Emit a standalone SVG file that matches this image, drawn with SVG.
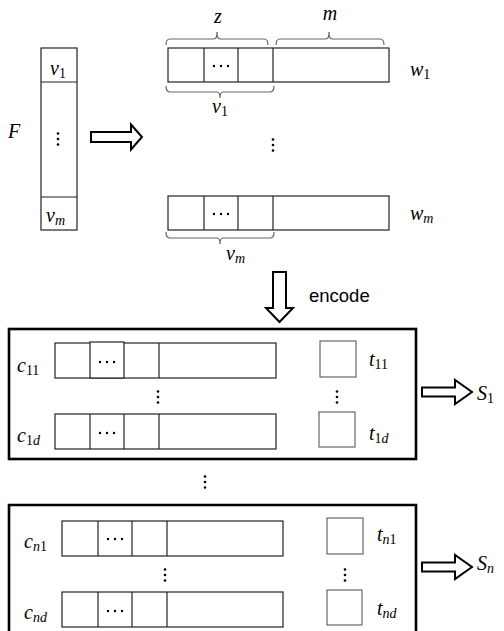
<svg xmlns="http://www.w3.org/2000/svg" width="504" height="631" viewBox="0 0 504 631">
  <defs>
    <style>
      .cell { fill: #fff; stroke: #222; stroke-width: 1.2; }
      .sq { fill: #fff; stroke: #666; stroke-width: 1.2; }
      .frame { fill: none; stroke: #000; stroke-width: 2.6; }
      .brace { fill: none; stroke: #666; stroke-width: 1.2; }
      .arrow { fill: #fff; stroke: #000; stroke-width: 2; stroke-linejoin: miter; }
      .m { font-family: "Liberation Serif", "DejaVu Serif", serif; font-style: italic; font-size: 20px; fill: #000; }
      .m .s { font-style: normal; font-size: 14px; }
      .m .si { font-style: italic; font-size: 14px; }
      .lbl { font-family: "Liberation Sans", "DejaVu Sans", sans-serif; font-size: 18.5px; fill: #000; }
      .dot { fill: #000; }
    </style>
    <g id="vdots">
      <circle class="dot" cx="0" cy="-5.5" r="1.3"/>
      <circle class="dot" cx="0" cy="0" r="1.3"/>
      <circle class="dot" cx="0" cy="5.5" r="1.3"/>
    </g>
    <g id="hdots">
      <circle class="dot" cx="-7" cy="0" r="1.2"/>
      <circle class="dot" cx="0" cy="0" r="1.2"/>
      <circle class="dot" cx="7" cy="0" r="1.2"/>
    </g>
    <path id="rarrow" class="arrow" d="M0,-4.5 H33 V-12 L50,0 L33,12 V4.5 H0 Z"/>
  </defs>

  <!-- F column -->
  <g id="F">
    <text class="m" x="8" y="138">F</text>
    <rect class="cell" x="41" y="48" width="36" height="182"/>
    <line x1="41" y1="82" x2="77" y2="82" stroke="#222" stroke-width="1.2"/>
    <line x1="41" y1="197" x2="77" y2="197" stroke="#222" stroke-width="1.2"/>
    <text class="m" x="50" y="75">v<tspan class="s" dy="3">1</tspan></text>
    <use href="#vdots" x="58" y="139"/>
    <text class="m" x="46" y="222">v<tspan class="si" dy="3">m</tspan></text>
  </g>

  <!-- split arrow -->
  <g id="split-arrow">
    <path class="arrow" d="M91,132 H131 V124.5 L142,137 L131,149.5 V142 H91 Z"/>
  </g>

  <!-- w_1 row -->
  <g id="w1">
    <rect class="cell" x="168" y="48" width="221" height="34"/>
    <line x1="204" y1="48" x2="204" y2="82" stroke="#222" stroke-width="1.2"/>
    <line x1="238" y1="48" x2="238" y2="82" stroke="#222" stroke-width="1.2"/>
    <line x1="273" y1="48" x2="273" y2="82" stroke="#222" stroke-width="1.2"/>
    <use href="#hdots" x="221" y="66"/>
    <path class="brace" d="M166,45 Q166,39 170,39 H214 Q217,39 217,32 Q217,39 220,39 H264 Q268,39 268,45"/>
    <text class="m" x="218" y="23" text-anchor="middle">z</text>
    <path class="brace" d="M276,45 Q276,39 280,39 H326 Q329,39 329,32 Q329,39 332,39 H380 Q384,39 384,45"/>
    <text class="m" x="330" y="20" text-anchor="middle">m</text>
    <path class="brace" d="M166,86 Q166,92 170,92 H217 Q220,92 220,98 Q220,92 223,92 H270 Q274,92 274,86"/>
    <text class="m" x="212" y="113">v<tspan class="s" dy="3">1</tspan></text>
    <text class="m" x="410" y="76">w<tspan class="s" dy="3">1</tspan></text>
  </g>

  <use href="#vdots" x="273" y="145"/>

  <!-- w_m row -->
  <g id="wm">
    <rect class="cell" x="168" y="196" width="221" height="34"/>
    <line x1="204" y1="196" x2="204" y2="230" stroke="#222" stroke-width="1.2"/>
    <line x1="238" y1="196" x2="238" y2="230" stroke="#222" stroke-width="1.2"/>
    <line x1="273" y1="196" x2="273" y2="230" stroke="#222" stroke-width="1.2"/>
    <use href="#hdots" x="221" y="214"/>
    <path class="brace" d="M166,232 Q166,238 170,238 H217 Q220,238 220,244 Q220,238 223,238 H270 Q274,238 274,232"/>
    <text class="m" x="226" y="260">v<tspan class="si" dy="3">m</tspan></text>
    <text class="m" x="410" y="220">w<tspan class="si" dy="3">m</tspan></text>
  </g>

  <!-- encode arrow -->
  <g id="encode">
    <path class="arrow" d="M273,272 H286 V308 H293 L279.5,322 L266,308 H273 Z"/>
    <text class="lbl" x="309" y="302">encode</text>
  </g>

  <!-- block S_1 -->
  <g id="S1-block">
    <rect class="frame" x="9" y="329" width="407" height="130"/>
    <text class="m" x="17" y="372">c<tspan class="s" dy="3">11</tspan></text>
    <rect class="cell" x="55" y="343" width="221" height="35"/>
    <rect class="cell" x="90" y="342" width="34" height="36"/>
    <line x1="159" y1="343" x2="159" y2="378" stroke="#222" stroke-width="1.2"/>
    <use href="#hdots" x="107" y="362"/>
    <use href="#vdots" x="158" y="397"/>
    <text class="m" x="17" y="442">c<tspan class="s" dy="3">1</tspan><tspan class="si">d</tspan></text>
    <rect class="cell" x="55" y="414" width="221" height="35"/>
    <line x1="90" y1="414" x2="90" y2="449" stroke="#222" stroke-width="1.2"/>
    <line x1="124" y1="414" x2="124" y2="449" stroke="#222" stroke-width="1.2"/>
    <line x1="159" y1="414" x2="159" y2="449" stroke="#222" stroke-width="1.2"/>
    <use href="#hdots" x="107" y="433"/>
    <rect class="sq" x="320" y="341" width="36" height="36"/>
    <text class="m" x="369" y="366">t<tspan class="s" dy="3">11</tspan></text>
    <use href="#vdots" x="337" y="397"/>
    <rect class="sq" x="319" y="412" width="36" height="35"/>
    <text class="m" x="369" y="440">t<tspan class="s" dy="3">1</tspan><tspan class="si">d</tspan></text>
  </g>

  <g id="S1-out">
    <use href="#rarrow" x="422" y="392"/>
    <text class="m" x="477" y="400">S<tspan class="s" dy="3">1</tspan></text>
  </g>

  <use href="#vdots" x="205" y="482"/>

  <!-- block S_n -->
  <g id="Sn-block">
    <path class="frame" d="M9,633 V505 H416 V633"/>
    <text class="m" x="24" y="548">c<tspan class="si" dy="3">n</tspan><tspan class="s">1</tspan></text>
    <rect class="cell" x="62" y="521" width="221" height="35"/>
    <line x1="98" y1="521" x2="98" y2="556" stroke="#222" stroke-width="1.2"/>
    <line x1="132" y1="521" x2="132" y2="556" stroke="#222" stroke-width="1.2"/>
    <line x1="167" y1="521" x2="167" y2="556" stroke="#222" stroke-width="1.2"/>
    <use href="#hdots" x="115" y="539"/>
    <use href="#vdots" x="165" y="575"/>
    <text class="m" x="24" y="619">c<tspan class="si" dy="3">nd</tspan></text>
    <rect class="cell" x="62" y="592" width="221" height="35"/>
    <line x1="98" y1="592" x2="98" y2="627" stroke="#222" stroke-width="1.2"/>
    <line x1="132" y1="592" x2="132" y2="627" stroke="#222" stroke-width="1.2"/>
    <line x1="167" y1="592" x2="167" y2="627" stroke="#222" stroke-width="1.2"/>
    <use href="#hdots" x="115" y="611"/>
    <rect class="sq" x="327" y="518" width="36" height="36"/>
    <text class="m" x="377" y="541">t<tspan class="si" dy="3">n</tspan><tspan class="s">1</tspan></text>
    <use href="#vdots" x="345" y="575"/>
    <rect class="sq" x="327" y="590" width="35" height="35"/>
    <text class="m" x="377" y="615">t<tspan class="si" dy="3">nd</tspan></text>
  </g>

  <g id="Sn-out">
    <use href="#rarrow" x="422" y="567"/>
    <text class="m" x="477" y="570">S<tspan class="si" dy="3">n</tspan></text>
  </g>
</svg>
